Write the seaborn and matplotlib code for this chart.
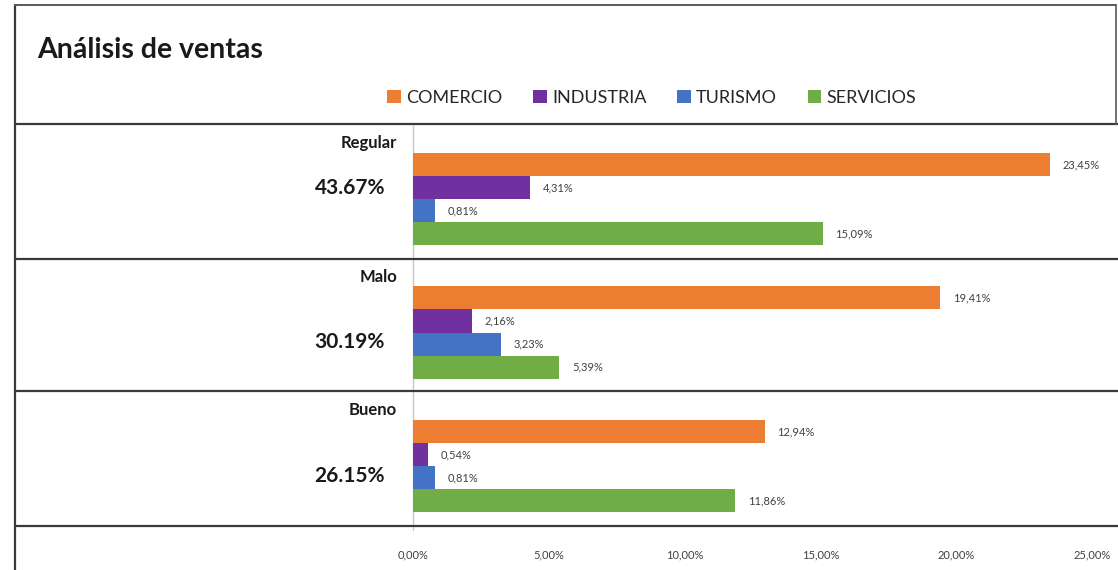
import numpy as np
import pandas as pd
import matplotlib.pyplot as plt
import seaborn as sns
from matplotlib.transforms import blended_transform_factory

# Data
niveles = ['Regular', 'Malo', 'Bueno']
totales = ['43.67%', '30.19%', '26.15%']
sectores = ['COMERCIO', 'INDUSTRIA', 'TURISMO', 'SERVICIOS']
comercio = [23.45, 19.41, 12.94]
industria = [4.31, 2.16, 0.54]
turismo = [0.81, 3.23, 0.81]
servicios = [15.09, 5.39, 11.86]
colores = ['#ED7D31', '#7030A0', '#4472C4', '#70AD47']
ticks = [0, 5, 10, 15, 20, 25]


def fmt(v):
    return f'{v:.2f}%'.replace('.', ',')


def main():
    sns.set_theme(style='white')
    plt.rcParams['font.family'] = ['Lato', 'DejaVu Sans']

    df = pd.DataFrame({
        'nivel': np.repeat(niveles, 4),
        'sector': sectores * 3,
        'valor': [v for fila in zip(comercio, industria, turismo, servicios) for v in fila],
    })

    W, H = 1118, 570
    fig = plt.figure(figsize=(W / 100, H / 100), dpi=100)
    x0, x1 = 413, 1116
    y_top, y_bot = 124, 526
    ax = fig.add_axes([x0 / W, 1 - y_bot / H, (x1 - x0) / W, (y_bot - y_top) / H])

    sns.barplot(data=df, x='valor', y='nivel', hue='sector', orient='h',
                order=niveles, hue_order=sectores, palette=colores,
                width=0.69, saturation=1, linewidth=0, ax=ax)

    handles, labels = ax.get_legend_handles_labels()
    ax.get_legend().remove()

    # scale: 0 -> px 413, 23.45 -> px 1050
    ppu = (1050 - 413) / 23.45
    ax.set_xlim(0, (x1 - x0) / ppu)
    # category centres at px 199, 333, 466
    step = (466 - 199) / 2
    ax.set_ylim(2 + (y_bot - 466) / step, -(199 - y_top) / step)

    for c in ax.containers:
        ax.bar_label(c, labels=[fmt(b.get_width()) for b in c], padding=9,
                     fontsize=8, color='#404040')

    for s in ax.spines.values():
        s.set_visible(False)
    ax.set_xlabel('')
    ax.set_ylabel('')
    ax.set_yticks([])
    ax.set_xticks(ticks)
    ax.set_xticklabels([fmt(t) for t in ticks], fontsize=8, color='#404040')
    ax.tick_params(axis='x', length=0, pad=17)

    # vertical zero line
    ax.plot([0, 0], [-0.56, 2 + (530 - 466) / step], color='#C8C8C8', lw=1,
            clip_on=False, zorder=0)

    # horizontal separators across the figure
    tr = blended_transform_factory(fig.transFigure, ax.transData)
    for py in [y_top, 259, 391, y_bot]:
        yd = (py - 199) / step
        ax.plot([15 / W, 1], [yd, yd], color='#3A3A3A', lw=1.6,
                transform=tr, clip_on=False)

    # outer border
    fig.add_artist(plt.Line2D([15 / W, 15 / W], [0, 1 - 5 / H], color='#3A3A3A', lw=1.6))
    fig.add_artist(plt.Line2D([15 / W, 1116 / W], [1 - 5 / H, 1 - 5 / H], color='#5A5A5A', lw=1.4))
    fig.add_artist(plt.Line2D([1116 / W, 1116 / W], [1 - 124 / H, 1 - 5 / H], color='#5A5A5A', lw=1.2))

    # category names and totals
    for i, (n, t) in enumerate(zip(niveles, totales)):
        ax.text(-16 / ppu, i - 56 / step, n, ha='right', va='center',
                fontsize=12, fontweight='bold', color='#1A1A1A')
        ax.text(-28 / ppu, i + (-11 if i == 0 else 10) / step, t, ha='right', va='center',
                fontsize=15, fontweight='bold', color='#1A1A1A')

    fig.text(37 / W, 1 - 50 / H, 'Análisis de ventas', fontsize=20.5,
             fontweight='bold', ha='left', va='center', color='#1A1A1A')

    fig.legend(handles, labels, loc='center', bbox_to_anchor=(652 / W, 1 - 98 / H),
               ncol=4, frameon=False, fontsize=13, handlelength=0.75,
               handleheight=0.75, handletextpad=0.3, columnspacing=1.7)

    fig.savefig('out.png', dpi=100)


main()
